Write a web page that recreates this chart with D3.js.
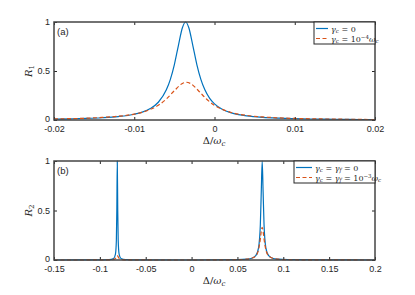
<!DOCTYPE html>
<html>
<head>
<meta charset="utf-8">
<script src="https://cdn.jsdelivr.net/npm/d3@7"></script>
<style>
  body { margin: 0; background: #fff; }
  text { font-family: "Liberation Sans", Arial, sans-serif; fill: #262626; }
  .math { font-family: "DejaVu Serif", "Liberation Serif", serif; }
</style>
</head>
<body>
<div class="chart"></div>
<script>
const svgWidth = 415
const svgHeight = 295

// panel (a) data
const xA = [-0.02, -0.018, -0.016, -0.014, -0.012, -0.010, -0.009, -0.008, -0.007, -0.006, -0.0055, -0.005, -0.0045, -0.004, -0.0036, -0.0032, -0.0027, -0.0022, -0.0017, -0.0012, -0.0006, 0, 0.001, 0.002, 0.003, 0.004, 0.006, 0.008, 0.010, 0.012, 0.014, 0.016, 0.018, 0.02]
const blueA = [0.009, 0.012, 0.016, 0.023, 0.035, 0.059, 0.081, 0.117, 0.181, 0.308, 0.415, 0.566, 0.76, 0.941, 1, 0.941, 0.76, 0.566, 0.415, 0.308, 0.221, 0.165, 0.108, 0.075, 0.055, 0.042, 0.027, 0.019, 0.014, 0.010, 0.008, 0.007, 0.005, 0.005]
const xA2 = [-0.02, -0.018, -0.016, -0.014, -0.012, -0.010, -0.009, -0.008, -0.007, -0.006, -0.005, -0.004, -0.0035, -0.003, -0.002, -0.001, 0, 0.001, 0.002, 0.003, 0.004, 0.006, 0.008, 0.010, 0.012, 0.014, 0.016, 0.018, 0.02]
const orangeA = [0.011, 0.014, 0.018, 0.026, 0.038, 0.060, 0.079, 0.108, 0.150, 0.214, 0.299, 0.373, 0.385, 0.373, 0.299, 0.214, 0.150, 0.108, 0.079, 0.060, 0.047, 0.031, 0.022, 0.016, 0.012, 0.010, 0.008, 0.006, 0.005]

// panel (b) data
const xB = [-0.15, -0.1, -0.09, -0.085, -0.083, -0.082, -0.0815, -0.081, -0.0805, -0.080, -0.079, -0.077, -0.072, -0.06, 0, 0.05, 0.06, 0.065, 0.07, 0.073, 0.075, 0.076, 0.077, 0.078, 0.079, 0.081, 0.084, 0.089, 0.094, 0.105, 0.15, 0.2]
const blueB = [0, 0.001, 0.003, 0.015, 0.059, 0.2, 0.5, 1, 0.5, 0.2, 0.059, 0.015, 0.003, 0.001, 0, 0.003, 0.008, 0.015, 0.044, 0.123, 0.36, 0.69, 1, 0.69, 0.36, 0.123, 0.044, 0.015, 0.008, 0.003, 0.001, 0]
const xB2 = [-0.15, -0.1, -0.09, -0.085, -0.083, -0.082, -0.081, -0.080, -0.079, -0.077, -0.072, -0.06, 0, 0.05, 0.06, 0.065, 0.07, 0.073, 0.075, 0.076, 0.077, 0.078, 0.079, 0.081, 0.084, 0.089, 0.094, 0.105, 0.15, 0.2]
const orangeB = [0, 0.0005, 0.0012, 0.0055, 0.016, 0.031, 0.045, 0.031, 0.016, 0.0055, 0.0012, 0.0005, 0, 0.003, 0.008, 0.016, 0.043, 0.103, 0.214, 0.29, 0.33, 0.29, 0.214, 0.103, 0.043, 0.016, 0.008, 0.003, 0.001, 0]

const ticksXA = ["-0.02", "-0.01", "0", "0.01", "0.02"]
const ticksXB = ["-0.15", "-0.1", "-0.05", "0", "0.05", "0.1", "0.15", "0.2"]
const ticksY = ["0", "0.5", "1"]

const blue = "#0072BD"
const orange = "#D95319"

let svg = d3
  .select(".chart")
  .append("svg")
  .attr("width", svgWidth)
  .attr("height", svgHeight)

function drawPanel(opt) {
  let x = d3.scaleLinear().domain(opt.xDomain).range([54, 375])
  let y = d3.scaleLinear().domain([0, 1]).range([opt.bottom, opt.top])
  let g = svg.append("g")

  let line = (xs) => d3.line()
    .x((d, i) => x(xs[i]))
    .y(d => y(d))
    .curve(d3.curveMonotoneX)

  g.append("path")
    .attr("d", line(opt.xs)(opt.blue))
    .attr("fill", "none")
    .attr("stroke", blue)
    .attr("stroke-width", 1.2)

  g.append("path")
    .attr("d", line(opt.xs2)(opt.orange))
    .attr("fill", "none")
    .attr("stroke", orange)
    .attr("stroke-width", 1.2)
    .attr("stroke-dasharray", "4,2.5")

  let tv = opt.ticks.map(Number)
  let yv = ticksY.map(Number)

  let bottomAxis = d3.axisBottom(x).tickValues(tv).tickSize(-3).tickPadding(6)
    .tickFormat((d, i) => opt.ticks[i])
  let topAxis = d3.axisTop(x).tickValues(tv).tickSize(-3).tickFormat("")
  let leftAxis = d3.axisLeft(y).tickValues(yv).tickSize(-3).tickPadding(4)
    .tickFormat((d, i) => ticksY[i])
  let rightAxis = d3.axisRight(y).tickValues(yv).tickSize(-3).tickFormat("")

  let axes = [
    [bottomAxis, `translate(0, ${opt.bottom})`],
    [topAxis, `translate(0, ${opt.top})`],
    [leftAxis, `translate(54, 0)`],
    [rightAxis, `translate(375, 0)`]
  ]
  axes.forEach(([ax, tr]) => {
    let a = g.append("g").attr("transform", tr).call(ax)
    a.select(".domain").remove()
    a.selectAll("line").attr("stroke", "#262626")
    a.selectAll("text").attr("font-size", "9px").attr("fill", "#262626")
      .style("font-family", "'Liberation Sans', Arial, sans-serif")
  })
  // lift the bottom y label a bit so it clears the x tick labels
  g.selectAll("text").filter(function() { return this.textContent === "0" && +d3.select(this).attr("x") < 0 })
    .attr("dy", "0.2em")

  g.append("rect")
    .attr("x", 54).attr("y", opt.top)
    .attr("width", 321).attr("height", opt.bottom - opt.top)
    .attr("fill", "none").attr("stroke", "#444").attr("stroke-width", 1.5)

  // panel tag
  g.append("text").attr("x", 57).attr("y", opt.top + 12.5)
    .attr("font-size", "9.5px").text(opt.tag)

  // y label
  let yl = g.append("text").attr("class", "math")
    .attr("transform", `translate(32, ${(opt.top + opt.bottom) / 2}) rotate(-90)`)
    .attr("text-anchor", "middle").attr("font-size", "10px")
  yl.append("tspan").attr("font-style", "italic").text("R")
  yl.append("tspan").attr("font-size", "7px").attr("dy", 2).text(opt.sub)

  // x label
  let xl = g.append("text").attr("class", "math")
    .attr("x", 214).attr("y", opt.bottom + 24)
    .attr("text-anchor", "middle").attr("font-size", "10px")
  xl.append("tspan").text("Δ/")
  xl.append("tspan").attr("font-style", "italic").text("ω")
  xl.append("tspan").attr("font-size", "7px").attr("dy", 2).attr("font-style", "italic").text("c")

  // legend
  let lg = g.append("g")
  lg.append("rect")
    .attr("x", opt.legX).attr("y", opt.top)
    .attr("width", 375 - opt.legX).attr("height", 22)
    .attr("fill", "#fff").attr("stroke", "#262626").attr("stroke-width", 1)
  opt.legend.forEach((parts, i) => {
    let ly = opt.top + 6.5 + i * 10
    lg.append("line")
      .attr("x1", opt.legX + 2).attr("x2", opt.legX + opt.legLine)
      .attr("y1", ly).attr("y2", ly)
      .attr("stroke", i === 0 ? blue : orange).attr("stroke-width", 1.2)
      .attr("stroke-dasharray", i === 0 ? null : "4,2.5")
    let t = lg.append("text").attr("class", "math")
      .attr("x", opt.legX + opt.legLine + 3).attr("y", ly + 3)
      .attr("font-size", "8px")
    parts.forEach(p => {
      let s = t.append("tspan").text(p[0])
      if (p[1] === "i") s.attr("font-style", "italic")
      if (p[1] === "sub") s.attr("font-size", "5.5px").attr("dy", 1.5).attr("font-style", "italic")
      if (p[1] === "up") s.attr("font-size", "5.5px").attr("dy", -3)
      if (p[2]) s.attr("dy", p[2])
    })
  })
}

drawPanel({
  xDomain: [-0.02, 0.02], top: 22, bottom: 120, ticks: ticksXA, tag: "(a)", sub: "1",
  xs: xA, blue: blueA, xs2: xA2, orange: orangeA,
  legX: 314, legLine: 14,
  legend: [
    [["γ", "i"], ["c", "sub"], [" = 0", "", -1.5]],
    [["γ", "i"], ["c", "sub"], [" = 10", "", -1.5], ["−4", "up"], ["ω", "i", 3], ["c", "sub"]]
  ]
})

drawPanel({
  xDomain: [-0.15, 0.2], top: 161, bottom: 260, ticks: ticksXB, tag: "(b)", sub: "2",
  xs: xB, blue: blueB, xs2: xB2, orange: orangeB,
  legX: 294, legLine: 18,
  legend: [
    [["γ", "i"], ["c", "sub"], [" = ", "", -1.5], ["γ", "i"], ["f", "sub"], [" = 0", "", -1.5]],
    [["γ", "i"], ["c", "sub"], [" = ", "", -1.5], ["γ", "i"], ["f", "sub"], [" = 10", "", -1.5], ["−3", "up"], ["ω", "i", 3], ["c", "sub"]]
  ]
})
</script>
</body>
</html>
